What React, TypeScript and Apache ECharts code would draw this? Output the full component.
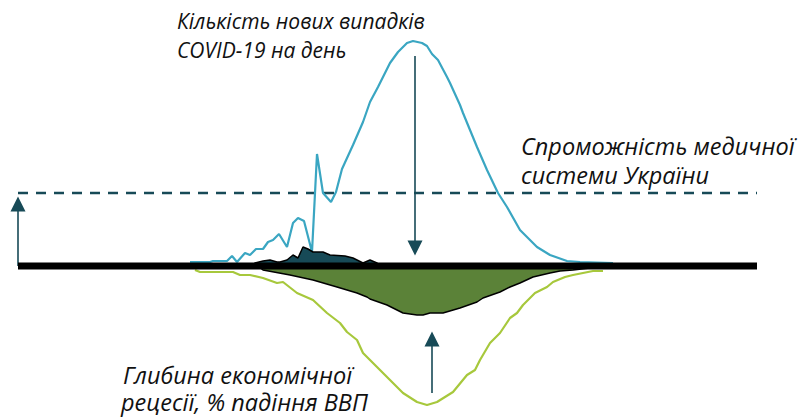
import React, { useEffect, useRef } from "react";
import * as echarts from "echarts";

// x: day index, y: arbitrary units (cases above 0, GDP fall below 0)
const covidCases: [number, number][] = [
  [34.4, 4], [38.4, 4], [39, 5], [41.8, 5], [42.8, 10], [43.8, 4], [45.4, 13], [46.4, 11],
  [47.6, 17], [49, 17], [50, 24], [51, 26], [52.2, 32], [53.8, 19], [55, 43], [56, 48],
  [57.2, 45], [58.8, 14], [59.8, 112], [61, 73], [62.6, 64], [63.6, 74], [64.8, 97],
  [67, 121], [69, 144], [70.4, 164], [72, 179], [74.4, 203], [76, 214], [77.8, 223],
  [79, 225], [80.8, 223], [81.8, 220], [82.8, 212], [84, 206], [85.8, 189], [86.4, 183],
  [88.4, 161], [89, 153], [91.8, 119], [93.8, 96], [96, 73], [97.8, 59], [100.4, 36],
  [103.8, 19], [106.4, 11], [109.8, 5], [112.4, 4], [119, 3],
];

const flattenedCases: [number, number][] = [
  [47, 0], [47.4, 3], [49, 5], [50.4, 6], [51.8, 4], [52.4, 4], [53.8, 6], [55, 11],
  [56, 8], [57, 19], [58, 17], [59, 14], [61, 14], [62.4, 11], [65.4, 10], [67, 8],
  [69, 3], [70.4, 6], [71.8, 3], [72.4, 0],
];

const mitigatedRecession: [number, number][] = [
  [48, 0], [49, -4], [54.4, -9], [59, -14], [63.8, -21], [67.8, -27], [69.8, -31],
  [70.4, -33], [73.8, -39], [77, -47], [79.8, -49], [81, -49], [82.4, -47], [85, -47],
  [88.4, -42], [91.8, -36], [93, -32], [96.4, -26], [98.4, -21], [100.4, -17], [103, -11],
  [106.4, -7], [108.4, -5], [111, -4], [114.4, -2], [116.4, 0],
];

const recessionDepth: [number, number][] = [
  [35.4, -4], [36.4, -6], [43, -6], [44.4, -9], [46.4, -9], [49, -12], [51.8, -17],
  [53, -16], [55.8, -27], [59, -34], [61.8, -47], [64.4, -57], [65.8, -66], [67.8, -74],
  [69, -87], [71.8, -101], [74.4, -114], [77, -127], [79.8, -136], [81.8, -139],
  [83.8, -136], [87, -126], [89.8, -109], [91.4, -104], [92.4, -94], [94.4, -77],
  [96.4, -67], [98.4, -52], [99.8, -47], [101, -39], [103.4, -27], [105.8, -21], [107, -16],
  [109.4, -11], [111, -9], [113, -7], [115, -5], [117, -5],
];

const xMin = 0;
const xMax = 147.8;
const capacity = 73;
const baseline: [number, number][] = [[xMin, 0], [xMax, 0]];
const capacityLine: [number, number][] = [[xMin, capacity], [xMax, capacity]];

// arrows: [x, from, to(head centre)]
const capacityArrow = [0, 0, 62];
const casesArrow = [79.4, 210, 18];
const recessionArrow = [82.8, -127, -73];

const labelCases = ["Кількість нових випадків", "COVID-19 на день"];
const labelCapacity = ["Спроможність медичної", "системи України"];
const labelRecession = ["Глибина економічної", "рецесії, % падіння ВВП"];

const DARK = "#174a57";
const FONT_TOP = 'italic 21px "Open Sans"';
const FONT_BIG = 'italic 23.5px "Open Sans"';

export default function App() {
  const ref = useRef<HTMLDivElement>(null);
  useEffect(() => {
    if (!ref.current) return;
    const chart = echarts.init(ref.current, null, { renderer: "svg" });
    const arrow = (a: number[]) => [
      { coord: [a[0], a[1]], symbol: "none" },
      { coord: [a[0], a[2]], symbol: "triangle" },
    ];
    const txt = (t: string, x: number, y: number, font: string) => ({
      type: "text",
      x,
      y,
      style: { text: t, font, fill: "#111", textVerticalAlign: "middle" },
      z: 100,
    });
    chart.setOption({
      animation: false,
      grid: { left: 18, right: 50, top: 6, bottom: 2 },
      xAxis: { type: "value", min: xMin, max: xMax, show: false },
      yAxis: { type: "value", min: -150, max: 260, show: false },
      series: [
        {
          type: "line",
          data: capacityLine,
          symbol: "none",
          lineStyle: { color: DARK, width: 2.5, type: [10, 8] },
          z: 1,
          markLine: {
            silent: true,
            symbol: ["none", "triangle"],
            symbolSize: 15,
            label: { show: false },
            lineStyle: { color: DARK, width: 1.6, type: "solid" },
            data: [arrow(capacityArrow), arrow(casesArrow), arrow(recessionArrow)],
          },
        },
        {
          type: "line",
          data: covidCases,
          symbol: "none",
          lineStyle: { color: "#3aa6c2", width: 2.2 },
          z: 3,
        },
        {
          type: "line",
          data: recessionDepth,
          symbol: "none",
          lineStyle: { color: "#a7c83c", width: 2.2 },
          z: 3,
        },
        {
          type: "line",
          data: flattenedCases,
          symbol: "none",
          lineStyle: { color: "#000", width: 1.5 },
          areaStyle: { color: DARK, opacity: 1, origin: 0 },
          z: 4,
        },
        {
          type: "line",
          data: mitigatedRecession,
          symbol: "none",
          lineStyle: { color: "#000", width: 1.5 },
          areaStyle: { color: "#5b8238", opacity: 1, origin: 0 },
          z: 4,
        },
        {
          type: "line",
          data: baseline,
          symbol: "none",
          lineStyle: { color: "#000", width: 7, cap: "butt" },
          z: 5,
        },
      ],
      graphic: [
        txt(labelCases[0], 177, 21, FONT_TOP),
        txt(labelCases[1], 177, 50, FONT_TOP),
        txt(labelCapacity[0], 521, 146, FONT_BIG),
        txt(labelCapacity[1], 521, 175, FONT_BIG),
        txt(labelRecession[0], 123, 375, FONT_BIG),
        txt(labelRecession[1], 121, 402, FONT_BIG),
      ],
    });
    return () => chart.dispose();
  }, []);
  return (
    <div
      ref={ref}
      style={{ position: "absolute", left: 0, top: 0, width: 807, height: 418 }}
    />
  );
}
